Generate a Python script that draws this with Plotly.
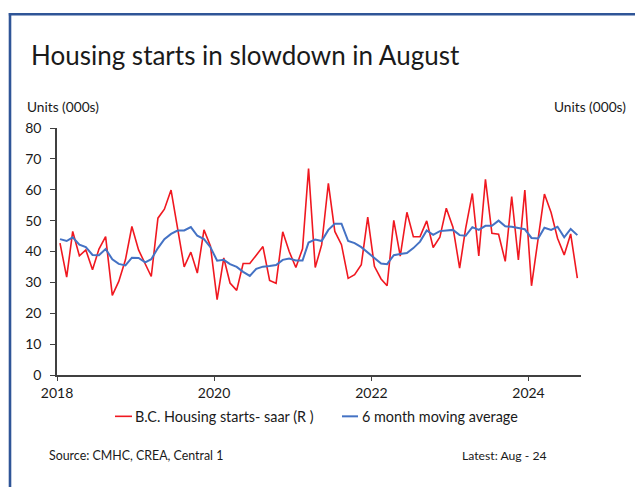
import pandas as pd
import plotly.graph_objects as go

# ---- data (Jan 2018 .. Aug 2024, monthly, thousands of units, SAAR) ----
months = pd.date_range("2018-01-01", "2024-08-01", freq="MS") + pd.Timedelta(days=14)

starts_saar = [42.7, 31.7, 46.5, 38.6, 40.5, 34.1, 40.8, 44.8, 25.8, 30.3, 37.3, 48.1,
               40.5, 35.7, 31.9, 50.8, 53.7, 59.9, 48.1, 35.0, 39.8, 33.0, 47.0, 41.8,
               24.4, 37.9, 29.8, 27.4, 36.1, 36.1, 38.8, 41.6, 30.6, 29.7, 46.4, 40.0,
               34.8, 40.9, 66.9, 34.8, 42.2, 62.1, 46.5, 42.2, 31.3, 32.5, 35.7, 51.1,
               35.2, 31.1, 28.9, 50.1, 38.5, 52.7, 44.8, 44.8, 49.9, 41.3, 44.6, 54.0,
               47.9, 34.6, 47.5, 58.8, 38.6, 63.4, 45.9, 45.6, 36.8, 57.8, 37.3, 59.9,
               28.9, 43.8, 58.6, 52.6, 44.3, 38.9, 45.7, 31.4]

moving_avg_6m = [44.0, 43.4, 44.6, 42.2, 41.4, 38.9, 38.8, 40.8, 37.5, 36.0, 35.5, 38.0,
                 37.9, 36.5, 37.5, 41.1, 44.0, 45.7, 46.8, 46.8, 47.9, 45.1, 44.0, 41.4,
                 37.0, 37.3, 35.9, 35.0, 33.4, 32.1, 34.4, 35.1, 35.3, 35.6, 37.3, 37.7,
                 37.1, 37.1, 42.9, 43.9, 43.4, 47.0, 49.0, 49.0, 43.4, 42.7, 41.4, 39.7,
                 37.9, 36.1, 35.9, 38.8, 39.2, 39.5, 41.1, 43.2, 46.8, 45.4, 46.6, 46.7,
                 47.0, 45.3, 45.1, 47.9, 47.0, 48.3, 48.3, 50.0, 48.2, 48.0, 47.6, 47.2,
                 44.4, 44.2, 47.7, 47.0, 48.0, 44.6, 47.3, 45.3]

series_names = ["B.C. Housing starts- saar (R )", "6 month moving average"]
title_text = "Housing starts in slowdown in August"
unit_label = "Units (000s)"
source_text = "Source: CMHC, CREA, Central 1"
latest_text = "Latest: Aug - 24"

RED = "#F01820"
BLUE = "#4472C4"
FRAME = "#2F5597"
AXIS = "#404040"
TEXT = "#1a1a1a"
FONT = "Lato"

# ---- layout geometry (pixels) ----
W, H = 635, 487
L, R = 57, 581          # plot area left/right
T, B = 127.5, 375.5     # plot area top/bottom

def px(x):
    return (x - L) / (R - L)

def py(y):
    return (B - y) / (B - T)

fig = go.Figure()
fig.add_trace(go.Scatter(x=months, y=starts_saar, mode="lines", name=series_names[0],
                         line=dict(color=RED, width=1.6), showlegend=False))
fig.add_trace(go.Scatter(x=months, y=moving_avg_6m, mode="lines", name=series_names[1],
                         line=dict(color=BLUE, width=2), showlegend=False))

annotations = [
    dict(text=title_text, x=px(29), y=py(54), xanchor="left", yanchor="middle",
         font=dict(size=26, color=TEXT, family=FONT)),
    dict(text=unit_label, x=px(25), y=py(106), xanchor="left", yanchor="middle",
         font=dict(size=13.7, color=TEXT, family=FONT)),
    dict(text=unit_label, x=px(628), y=py(106), xanchor="right", yanchor="middle",
         font=dict(size=13.7, color=TEXT, family=FONT)),
    dict(text=series_names[0], x=px(133), y=py(417), xanchor="left", yanchor="middle",
         font=dict(size=14.4, color=TEXT, family=FONT)),
    dict(text=series_names[1], x=px(360), y=py(417), xanchor="left", yanchor="middle",
         font=dict(size=14.4, color=TEXT, family=FONT)),
    dict(text=source_text, x=px(47), y=py(456), xanchor="left", yanchor="middle",
         font=dict(size=12.4, color=TEXT, family=FONT)),
    dict(text=latest_text, x=px(549), y=py(456), xanchor="right", yanchor="middle",
         font=dict(size=12.2, color=TEXT, family=FONT)),
]
for a in annotations:
    a.update(xref="paper", yref="paper", showarrow=False)

shapes = [
    # legend swatches
    dict(type="line", x0=px(115), x1=px(132), y0=py(417), y1=py(417),
         line=dict(color=RED, width=1.6)),
    dict(type="line", x0=px(342), x1=px(358), y0=py(417), y1=py(417),
         line=dict(color=BLUE, width=2)),
    # slide frame
    dict(type="line", x0=px(8.8), x1=px(650), y0=py(13.3), y1=py(13.3),
         line=dict(color=FRAME, width=2.6)),
    dict(type="line", x0=px(10), x1=px(10), y0=py(12), y1=py(500),
         line=dict(color=FRAME, width=2.6)),
]
for s in shapes:
    s.update(xref="paper", yref="paper", layer="above")

fig.update_layout(
    width=W, height=H, autosize=False,
    margin=dict(l=L, r=W - R, t=T, b=H - B, pad=0),
    paper_bgcolor="white", plot_bgcolor="white",
    font=dict(family=FONT, size=14, color=TEXT),
    annotations=annotations, shapes=shapes,
    xaxis=dict(
        type="date", range=["2018-01-01", "2024-09-01"],
        tick0="2018-01-01", dtick="M24", tickformat="%Y",
        showgrid=False, zeroline=False,
        showline=True, linecolor=AXIS, linewidth=1.5,
        ticks="outside", ticklen=4, tickwidth=1.3, tickcolor=AXIS,
        tickfont=dict(size=14, family=FONT, color=TEXT),
    ),
    yaxis=dict(
        range=[0, 80], dtick=10, tick0=0,
        showgrid=False, zeroline=False,
        showline=True, linecolor=AXIS, linewidth=1.5,
        ticks="outside", ticklen=5, tickwidth=1.3, tickcolor=AXIS,
        ticklabelstandoff=6,
        tickfont=dict(size=14, family=FONT, color=TEXT),
    ),
)

fig.write_html("out.html")
